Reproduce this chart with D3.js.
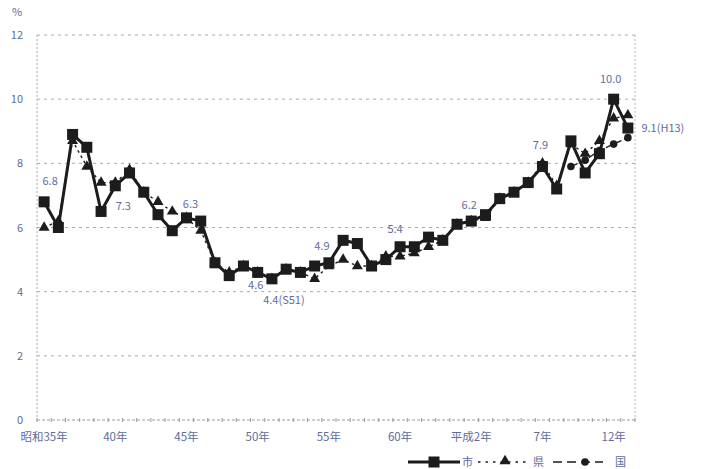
<!DOCTYPE html>
<html>
<head>
<meta charset="utf-8">
<script src="https://cdn.jsdelivr.net/npm/d3@7/dist/d3.min.js"></script>
<style>
  html, body { margin: 0; padding: 0; background: #fff; }
  svg { display: block; }
  text { font-family: "Noto Sans CJK JP", "Noto Sans", sans-serif; }
</style>
</head>
<body>
<svg id="chart" width="701" height="469"></svg>
<script>
// Years 昭和35年 (1960) to 平成13年 (2001)
const years = [1960,1961,1962,1963,1964,1965,1966,1967,1968,1969,
               1970,1971,1972,1973,1974,1975,1976,1977,1978,1979,
               1980,1981,1982,1983,1984,1985,1986,1987,1988,1989,
               1990,1991,1992,1993,1994,1995,1996,1997,1998,1999,
               2000,2001];

// 市
const cityValues = [6.8,6.0,8.9,8.5,6.5,7.3,7.7,7.1,6.4,5.9,
                    6.3,6.2,4.9,4.5,4.8,4.6,4.4,4.7,4.6,4.8,
                    4.9,5.6,5.5,4.8,5.0,5.4,5.4,5.7,5.6,6.1,
                    6.2,6.4,6.9,7.1,7.4,7.9,7.2,8.7,7.7,8.3,
                    10.0,9.1];

// 県
const prefValues = [6.0,6.2,8.7,7.9,7.4,7.4,7.8,7.1,6.8,6.5,
                    6.3,5.9,4.9,4.6,4.8,4.6,4.4,4.7,4.6,4.4,
                    4.8,5.0,4.8,4.8,5.1,5.1,5.2,5.4,5.6,6.1,
                    6.2,6.3,6.9,7.1,7.4,8.0,7.3,8.6,8.3,8.7,
                    9.4,9.5];

// 国 (平成9年から)
const nationValues = [null,null,null,null,null,null,null,null,null,null,
                      null,null,null,null,null,null,null,null,null,null,
                      null,null,null,null,null,null,null,null,null,null,
                      null,null,null,null,null,null,null,7.9,8.1,8.4,
                      8.6,8.8];

// Category axis labels
const xTickYears  = [1960, 1965, 1970, 1975, 1980, 1985, 1990, 1995, 2000];
const xTickLabels = ["昭和35年","40年","45年","50年","55年","60年","平成2年","7年","12年"];
const yTicks = [0, 2, 4, 6, 8, 10, 12];

// Value annotations on the 市 series
const cityLabels = [
  {year: 1960, text: "6.8",      dx: 6,   dy: -17},
  {year: 1965, text: "7.3",      dx: 8,   dy: 24},
  {year: 1970, text: "6.3",      dx: 4,   dy: -10},
  {year: 1975, text: "4.6",      dx: -2,  dy: 17},
  {year: 1976, text: "4.4(S51)", dx: 12,  dy: 25},
  {year: 1980, text: "4.9",      dx: -7,  dy: -13},
  {year: 1985, text: "5.4",      dx: -5,  dy: -14},
  {year: 1990, text: "6.2",      dx: -2,  dy: -12},
  {year: 1995, text: "7.9",      dx: -2,  dy: -18},
  {year: 2000, text: "10.0",     dx: -3,  dy: -16},
  {year: 2001, text: "9.1(H13)", dx: 35,  dy: 4}
];

const labelColor = "#5e6c9c";
const ink = "#1c1c1c";

const svg = d3.select("#chart");
const plot = {left: 37, right: 635, top: 35, bottom: 420};

const x = d3.scaleBand()
  .domain(years)
  .range([plot.left, plot.right])
  .paddingInner(0).paddingOuter(0);
const cx = d => x(d) + x.bandwidth() / 2;

const y = d3.scaleLinear()
  .domain([0, 12])
  .range([plot.bottom, plot.top]);

// Gridlines and frame
const grid = svg.append("g");
grid.selectAll("line.h")
  .data(yTicks.filter(t => t > 0))
  .join("line")
  .attr("x1", plot.left).attr("x2", plot.right)
  .attr("y1", d => y(d)).attr("y2", d => y(d))
  .attr("stroke", "#a9a9b4").attr("stroke-width", 1)
  .attr("stroke-dasharray", "3,4");
grid.append("line")
  .attr("x1", plot.left).attr("x2", plot.left)
  .attr("y1", plot.top).attr("y2", plot.bottom)
  .attr("stroke", "#a9a9b4").attr("stroke-dasharray", "2,2");
grid.append("line")
  .attr("x1", plot.right).attr("x2", plot.right)
  .attr("y1", plot.top).attr("y2", plot.bottom)
  .attr("stroke", "#b4b4be").attr("stroke-dasharray", "2,2");

// Y axis labels
svg.append("g").selectAll("text")
  .data(yTicks)
  .join("text")
  .attr("x", 23).attr("y", d => y(d) + 4)
  .attr("text-anchor", "end")
  .attr("font-size", 11)
  .attr("fill", labelColor)
  .text(d => d);
svg.append("text")
  .attr("x", 12).attr("y", 16)
  .attr("font-size", 11)
  .attr("fill", labelColor)
  .text("%");

// X axis with ticks at category boundaries
const xAxis = svg.append("g");
xAxis.append("line")
  .attr("x1", plot.left).attr("x2", plot.right)
  .attr("y1", plot.bottom).attr("y2", plot.bottom)
  .attr("stroke", "#9a9aa6").attr("stroke-dasharray", "3,2");
xAxis.selectAll("line.tick")
  .data(years.concat([null]))
  .join("line")
  .attr("x1", (d, i) => plot.left + i * x.bandwidth())
  .attr("x2", (d, i) => plot.left + i * x.bandwidth())
  .attr("y1", plot.bottom - 2).attr("y2", plot.bottom + 2)
  .attr("stroke", "#9a9aa6");
xAxis.selectAll("text")
  .data(xTickYears)
  .join("text")
  .attr("x", d => cx(d))
  .attr("y", 441)
  .attr("text-anchor", "middle")
  .attr("font-size", 11.5)
  .attr("fill", labelColor)
  .text((d, i) => xTickLabels[i]);

// Series
function series(values) {
  return years.map((yr, i) => ({year: yr, v: values[i]}));
}
const lineGen = d3.line()
  .defined(d => d.v != null)
  .x(d => cx(d.year))
  .y(d => y(d.v));

const nation = series(nationValues);
const pref = series(prefValues);
const city = series(cityValues);

// 国
svg.append("path").datum(nation)
  .attr("d", lineGen).attr("fill", "none")
  .attr("stroke", ink).attr("stroke-width", 1.4)
  .attr("stroke-dasharray", "7,3");
svg.append("g").selectAll("circle")
  .data(nation.filter(d => d.v != null))
  .join("circle")
  .attr("cx", d => cx(d.year)).attr("cy", d => y(d.v))
  .attr("r", 3.8).attr("fill", ink);

// 県
svg.append("path").datum(pref)
  .attr("d", lineGen).attr("fill", "none")
  .attr("stroke", ink).attr("stroke-width", 1.4)
  .attr("stroke-dasharray", "2.5,3.5");
const tri = d3.symbol().type(d3.symbolTriangle).size(52);
svg.append("g").selectAll("path")
  .data(pref)
  .join("path")
  .attr("d", tri)
  .attr("transform", d => `translate(${cx(d.year)},${y(d.v)})`)
  .attr("fill", ink);

// 市
svg.append("path").datum(city)
  .attr("d", lineGen).attr("fill", "none")
  .attr("stroke", ink).attr("stroke-width", 3)
  .attr("stroke-linejoin", "round");
svg.append("g").selectAll("rect")
  .data(city)
  .join("rect")
  .attr("x", d => cx(d.year) - 5.5).attr("y", d => y(d.v) - 5.5)
  .attr("width", 11).attr("height", 11)
  .attr("fill", ink);

// Annotations
const cityByYear = new Map(city.map(d => [d.year, d.v]));
svg.append("g").selectAll("text")
  .data(cityLabels)
  .join("text")
  .attr("x", d => cx(d.year) + d.dx)
  .attr("y", d => y(cityByYear.get(d.year)) + d.dy)
  .attr("text-anchor", "middle")
  .attr("font-size", 11)
  .attr("fill", labelColor)
  .text(d => d.text);

// Legend
const lg = svg.append("g").attr("transform", "translate(0,462)");
lg.append("line").attr("x1", 408).attr("x2", 460).attr("y1", 0).attr("y2", 0)
  .attr("stroke", ink).attr("stroke-width", 3);
lg.append("rect").attr("x", 428.5).attr("y", -5.5).attr("width", 11).attr("height", 11).attr("fill", ink);
lg.append("text").attr("x", 462).attr("y", 4).attr("font-size", 11).attr("fill", labelColor).text("市");
lg.append("line").attr("x1", 478).attr("x2", 530).attr("y1", 0).attr("y2", 0)
  .attr("stroke", ink).attr("stroke-width", 1.4).attr("stroke-dasharray", "2.5,5");
lg.append("path").attr("d", tri).attr("transform", "translate(505,-1)").attr("fill", ink);
lg.append("text").attr("x", 533).attr("y", 4).attr("font-size", 11).attr("fill", labelColor).text("県");
lg.append("line").attr("x1", 553).attr("x2", 603).attr("y1", 0).attr("y2", 0)
  .attr("stroke", ink).attr("stroke-width", 1.4).attr("stroke-dasharray", "9,5");
lg.append("circle").attr("cx", 585).attr("cy", 0).attr("r", 3.8).attr("fill", ink);
lg.append("text").attr("x", 615).attr("y", 4).attr("font-size", 11).attr("fill", labelColor).text("国");
</script>
</body>
</html>
